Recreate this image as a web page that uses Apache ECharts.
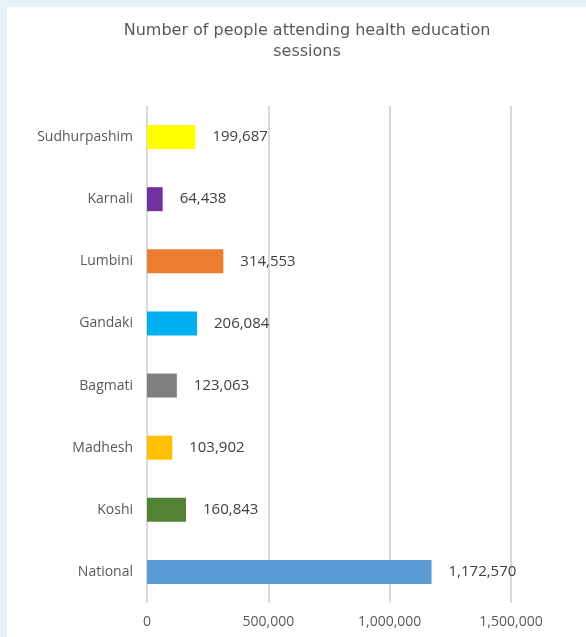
<!DOCTYPE html>
<html><head><meta charset="utf-8">
<script src="https://cdn.jsdelivr.net/npm/echarts@6/dist/echarts.min.js"></script>
<style>html,body{margin:0;padding:0;background:#e6f2f9;}#c{width:586px;height:637px;}</style>
</head><body><div id="c"></div>
<script>
const categories = ["National","Koshi","Madhesh","Bagmati","Gandaki","Lumbini","Karnali","Sudhurpashim"];
const values = [1172570,160843,103902,123063,206084,314553,64438,199687];
const colors = ["#5B9BD5","#548235","#FFC000","#7F7F7F","#00B0F0","#ED7D31","#7030A0","#FFFF00"];
const xTicks = [0,500000,1000000,1500000];
const chart = echarts.init(document.getElementById('c'));
chart.setOption({
  backgroundColor: '#e6f2f9',
  animation: false,
  graphic: [{type:'rect', z:-10, shape:{x:7,y:7,width:579,height:630}, style:{fill:'#ffffff'}}],
  title: {
    text: 'Number of people attending health education\nsessions',
    left: 302, top: 15, textAlign: 'center',
    textStyle: {fontFamily:'DejaVu Sans', fontSize:16, fontWeight:'normal', color:'#595959', lineHeight:21}
  },
  grid: {left:147, right:75, top:106, bottom:34},
  xAxis: {
    type:'value', min:xTicks[0], max:xTicks[xTicks.length-1], interval:500000,
    axisLine:{show:false}, axisTick:{show:false},
    splitLine:{lineStyle:{color:'#d9d9d9', width:2}},
    axisLabel:{fontFamily:'Open Sans', fontSize:14, color:'#595959', margin:12,
      formatter: v => v.toLocaleString('en-US')}
  },
  yAxis: {
    type:'category', data:categories,
    axisLine:{show:false}, axisTick:{show:false},
    axisLabel:{fontFamily:'Open Sans', fontSize:14, color:'#595959', margin:14}
  },
  series: [{
    type:'bar', barWidth:24,
    data: values.map((v,i)=>({value:v, itemStyle:{color:colors[i]}})),
    label:{show:true, position:'right', distance:17, fontFamily:'Open Sans', fontSize:15, color:'#404040',
      formatter: p => p.value.toLocaleString('en-US')}
  }]
});
</script></body></html>
